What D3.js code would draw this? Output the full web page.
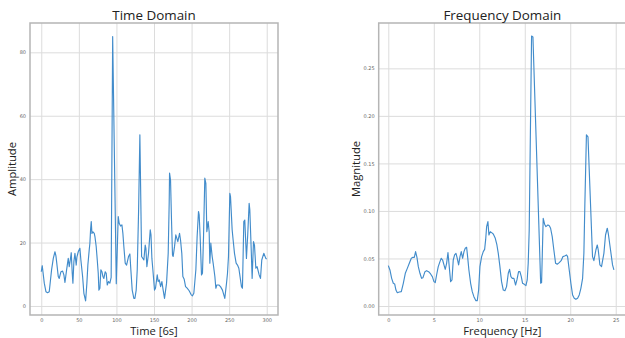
<!DOCTYPE html>
<html>
<head>
<meta charset="utf-8">
<script src="https://cdn.jsdelivr.net/npm/d3@7"></script>
<style>
  body { margin: 0; background: #fff; }
  .tick text { font-family: "DejaVu Sans", sans-serif; font-size: 5px; fill: #666; }
  .title { font-family: "Open Sans", sans-serif; font-size: 13.4px; fill: #222; }
  .label { font-family: "Open Sans", sans-serif; font-size: 11.2px; fill: #222; }
</style>
</head>
<body>
<div id="chart"></div>
<script>
// time domain samples
const timeT = [0, 1.3, 4, 6.2, 8.4, 10.6, 13.7, 16, 18.2, 19.5, 20.4, 22.6, 23.9, 26.2, 28.4, 30.1, 31.5, 33.7,
  35.9, 37.2, 38.6, 39.9, 41.2, 42.1, 43.4, 44.8, 46.5, 47.4, 49.2, 51.4, 52.7, 55, 56.7, 59, 60.7, 62, 63.8,
  64.7, 65.6, 66.5, 67.4, 68.7, 70.5, 71.4, 73.1, 74.5, 75.8, 76.7, 78, 79.3, 80.7, 82, 83.3, 85.1, 86.4, 87.8,
  89.5, 91.3, 93, 95, 99.8, 102.4, 103.7, 105.5, 107.3, 108.6, 109.9, 111.7, 113.5, 116.1, 117.9, 119.2, 121,
  123.2, 124.6, 126.3, 127.7, 129.5, 131.2, 133.5, 136.5, 138.3, 139.2, 140.5, 142.7, 145, 146, 147.2, 148.5,
  150.7, 152, 154.3, 155.6, 157, 158.8, 160.5, 162.2, 164, 166.7, 168.9, 170.2, 170.7, 172, 173.3, 174.6, 175.5,
  177.3, 179, 180.4, 181.7, 184, 185.3, 187, 188.4, 190.2, 192, 194.1, 196.8, 199.5, 201.2, 203, 205.7, 207.4,
  209.2, 210.1, 211.4, 213.2, 214.5, 215.9, 217.6, 219, 220.3, 222.1, 223.4, 224.3, 225.6, 227.4, 228.7, 231,
  232.3, 233.6, 236.3, 238.5, 241.1, 244.2, 246.5, 247.8, 249.1, 250.9, 251.8, 254, 255.3, 257.1, 259.3, 261.1,
  262.9, 266.4, 267.7, 269.5, 270.8, 273, 274.8, 276.6, 277.5, 279.3, 280.6, 282.4, 283.7, 285.5, 287.2, 289.9,
  291.7, 293.4, 296.1, 298.8, 300]
const timeAmp = [10.8, 12.7, 7.2, 4.5, 4.2, 4.5, 11.4, 15, 17.1, 15.8, 14, 9.3, 8.7, 10.8, 11, 9.8, 7.4, 11.4,
  15, 12.4, 14.5, 16.8, 10.3, 7.2, 14, 16.6, 12.9, 15.4, 17.1, 18.2, 14.5, 9.3, 4, 1.6, 7.2, 12.9, 17.7,
  19.8, 24, 26.6, 22.9, 23.4, 22.9, 21.9, 18.7, 14.5, 10.3, 5, 5.6, 11.4, 10.8, 9.3, 8.7, 10.8, 10.3, 6.6,
  7.7, 7.2, 9, 85, 7, 28.2, 26.1, 25.2, 25.6, 22.9, 18.7, 13.5, 12.9, 15.6, 16.4, 11.4, 5,
  2.4, 2.4, 5, 11.4, 30, 54, 15.6, 14.5, 19.2, 18.2, 12.4, 16.6, 24, 22.4, 15, 11.4,
  5, 5.6, 9.8, 7.7, 8.2, 6.1, 7.7, 5, 2.4, 7.2, 16.6, 32.4, 41.9, 39.7, 27.1, 16.1, 15.6,
  18.7, 22.4, 21.3, 20.3, 22.9, 20.8, 16.6, 9.3, 8.4, 6.1, 5.6, 4.8, 3.5, 3.2, 4, 11.4, 21.9,
  29.8, 28.7, 21.9, 9.8, 10.3, 21.9, 40.3, 38.7, 23.4, 26.6, 23.4, 13.5, 19.8, 15.6, 13.5, 9.3,
  5.6, 6.6, 6.6, 6.1, 5, 2.4, 7.2, 10.3, 15.6, 35.5, 34.5, 24, 20.8, 16.6, 13.5, 12.9,
  11.9, 6.1, 5.6, 26.6, 27.1, 15, 22.9, 32.4, 30.3, 18.2, 8.7, 20.3, 19.2, 11.9, 12.4, 9.8,
  8.7, 14.5, 16.6, 15, 14.8]

// frequency domain samples
const freqHz = [0, 0.18, 0.37, 0.55, 0.7, 0.84, 0.99, 1.21, 1.43, 1.65, 1.87, 2.09, 2.31, 2.53, 2.71, 2.86, 3,
  3.15, 3.3, 3.48, 3.66, 3.81, 4.03, 4.21, 4.43, 4.65, 4.84, 5.02, 5.16, 5.31, 5.49, 5.68, 5.82, 5.97, 6.12,
  6.26, 6.41, 6.56, 6.7, 6.85, 7, 7.14, 7.29, 7.44, 7.58, 7.73, 7.88, 8.02, 8.17, 8.32, 8.46, 8.61, 8.72, 8.86,
  9.05, 9.23, 9.41, 9.63, 9.78, 9.93, 10.07, 10.26, 10.44, 10.59, 10.7, 10.81, 10.95, 11.06, 11.21, 11.36,
  11.54, 11.76, 11.94, 12.09, 12.27, 12.45, 12.64, 12.82, 13, 13.19, 13.33, 13.48, 13.63, 13.81, 13.99, 14.14,
  14.32, 14.47, 14.62, 14.76, 14.95, 15.13, 15.27, 15.38, 15.49, 15.75, 15.9, 16.75, 16.85, 17.03, 17.18,
  17.33, 17.55, 17.7, 17.84, 18.02, 18.2, 18.39, 18.57, 18.79, 19, 19.19, 19.38, 19.6, 19.71, 19.89, 20.07,
  20.26, 20.44, 20.62, 20.81, 20.99, 21.17, 21.36, 21.5, 21.61, 21.78, 21.95, 22.45, 22.6, 22.82, 22.97,
  23.08, 23.26, 23.44, 23.7, 23.88, 24.07, 24.18, 24.43, 24.65, 24.8]
const freqMag = [0.0425, 0.0379, 0.0291, 0.0239, 0.0232, 0.0168, 0.014, 0.0147, 0.0151, 0.0239, 0.0344, 0.0396,
  0.0449, 0.0502, 0.0512, 0.0512, 0.0572, 0.0512, 0.0414, 0.0344, 0.0291, 0.0298, 0.0361, 0.0372, 0.0361,
  0.0337, 0.0309, 0.0256, 0.0246, 0.0326, 0.0414, 0.0467, 0.0502, 0.0484, 0.0432, 0.0386, 0.0449, 0.0561,
  0.0414, 0.0256, 0.0274, 0.0484, 0.0537, 0.0554, 0.0502, 0.0432, 0.0519, 0.0572, 0.0502, 0.0572, 0.0607,
  0.0618, 0.0519, 0.0379, 0.0239, 0.0151, 0.0098, 0.0056, 0.0056, 0.0168, 0.0414, 0.0519, 0.0572, 0.0596,
  0.0695, 0.0835, 0.0888, 0.0747, 0.0782, 0.0772, 0.0758, 0.0712, 0.0642, 0.0554, 0.0414, 0.0256, 0.0168,
  0.0161, 0.0204, 0.0344, 0.0386, 0.0309, 0.0291, 0.0291, 0.0221, 0.0274, 0.0361, 0.0361, 0.0309, 0.0239,
  0.0228, 0.0214, 0.0274, 0.0449, 0.08, 0.284, 0.283, 0.0239, 0.0246, 0.0923, 0.086, 0.0835, 0.0853,
  0.0845, 0.0818, 0.073, 0.0589, 0.0449, 0.0439, 0.0456, 0.0477, 0.0519, 0.0526, 0.0537, 0.0519, 0.0379,
  0.0239, 0.0116, 0.0081, 0.007, 0.0081, 0.0116, 0.0186, 0.0291, 0.0554, 0.108, 0.18, 0.178, 0.0519,
  0.0477, 0.0589, 0.0642, 0.0589, 0.0432, 0.0414, 0.0554, 0.0747, 0.0818, 0.0765, 0.0589, 0.0432, 0.0379]

const timeTicks = [0, 50, 100, 150, 200, 250, 300]
const ampTicks = [0, 20, 40, 60, 80]
const freqTicks = [0, 5, 10, 15, 20, 25]
const magTicks = [0, 0.05, 0.1, 0.15, 0.2, 0.25]

const width = 625
const height = 338

const svg = d3
  .select('#chart')
  .append('svg')
  .attr('width', width)
  .attr('height', height)

function panel(opts) {
  const x = d3.scaleLinear().domain(opts.xDomain).range([opts.left, opts.right])
  const y = d3.scaleLinear().domain(opts.yDomain).range([opts.bottom, opts.top])
  const g = svg.append('g')

  // grid
  g.append('g')
    .attr('transform', `translate(0,${opts.bottom})`)
    .call(d3.axisBottom(x).tickValues(opts.xTicks).tickSize(-(opts.bottom - opts.top)).tickFormat(''))
    .call(s => s.select('.domain').remove())
    .selectAll('line')
    .attr('stroke', '#dcdcdc')
    .attr('stroke-width', 1)

  g.append('g')
    .attr('transform', `translate(${opts.left},0)`)
    .call(d3.axisLeft(y).tickValues(opts.yTicks).tickSize(-(opts.right - opts.left)).tickFormat(''))
    .call(s => s.select('.domain').remove())
    .selectAll('line')
    .attr('stroke', '#dcdcdc')
    .attr('stroke-width', 1)

  // tick labels
  g.append('g')
    .attr('transform', `translate(0,${opts.bottom})`)
    .call(d3.axisBottom(x).tickValues(opts.xTicks).tickSize(0).tickPadding(3.5).tickFormat(opts.xFormat))
    .call(s => s.select('.domain').remove())

  g.append('g')
    .attr('transform', `translate(${opts.left},0)`)
    .call(d3.axisLeft(y).tickValues(opts.yTicks).tickSize(0).tickPadding(4).tickFormat(opts.yFormat))
    .call(s => s.select('.domain').remove())

  // line
  const line = d3
    .line()
    .x(d => x(d[0]))
    .y(d => y(d[1]))

  g.append('path')
    .datum(d3.zip(opts.xs, opts.ys))
    .attr('d', line)
    .attr('fill', 'none')
    .attr('stroke', '#428ccb')
    .attr('stroke-width', 1.15)
    .attr('stroke-linejoin', 'round')

  // spines
  g.append('rect')
    .attr('x', opts.left)
    .attr('y', opts.top)
    .attr('width', opts.right - opts.left)
    .attr('height', opts.bottom - opts.top)
    .attr('fill', 'none')
    .attr('stroke', '#b5b5b5')
    .attr('stroke-width', 1.5)

  const cx = (opts.left + opts.right) / 2
  const cy = (opts.top + opts.bottom) / 2

  g.append('text')
    .attr('class', 'title')
    .attr('x', cx)
    .attr('y', 19.5)
    .attr('text-anchor', 'middle')
    .text(opts.title)

  g.append('text')
    .attr('class', 'label')
    .attr('x', cx)
    .attr('y', 334.5)
    .attr('text-anchor', 'middle')
    .text(opts.xLabel)

  g.append('text')
    .attr('class', 'label')
    .attr('transform', `translate(${opts.yLabelX},${cy}) rotate(-90)`)
    .attr('text-anchor', 'middle')
    .text(opts.yLabel)
}

panel({
  left: 30,
  right: 278,
  top: 23,
  bottom: 315,
  xDomain: [-15, 315],
  yDomain: [-2.85, 89.25],
  xTicks: timeTicks,
  yTicks: ampTicks,
  xFormat: d3.format('d'),
  yFormat: d3.format('d'),
  xs: timeT,
  ys: timeAmp,
  title: 'Time Domain',
  xLabel: 'Time [6s]',
  yLabel: 'Amplitude',
  yLabelX: 16
})

panel({
  left: 378.7,
  right: 626,
  top: 23,
  bottom: 315,
  xDomain: [-1.055, 26.13],
  yDomain: [-0.00947, 0.2977],
  xTicks: freqTicks,
  yTicks: magTicks,
  xFormat: d3.format('d'),
  yFormat: d3.format('.2f'),
  xs: freqHz,
  ys: freqMag,
  title: 'Frequency Domain',
  xLabel: 'Frequency [Hz]',
  yLabel: 'Magnitude',
  yLabelX: 360
})
</script>
</body>
</html>
